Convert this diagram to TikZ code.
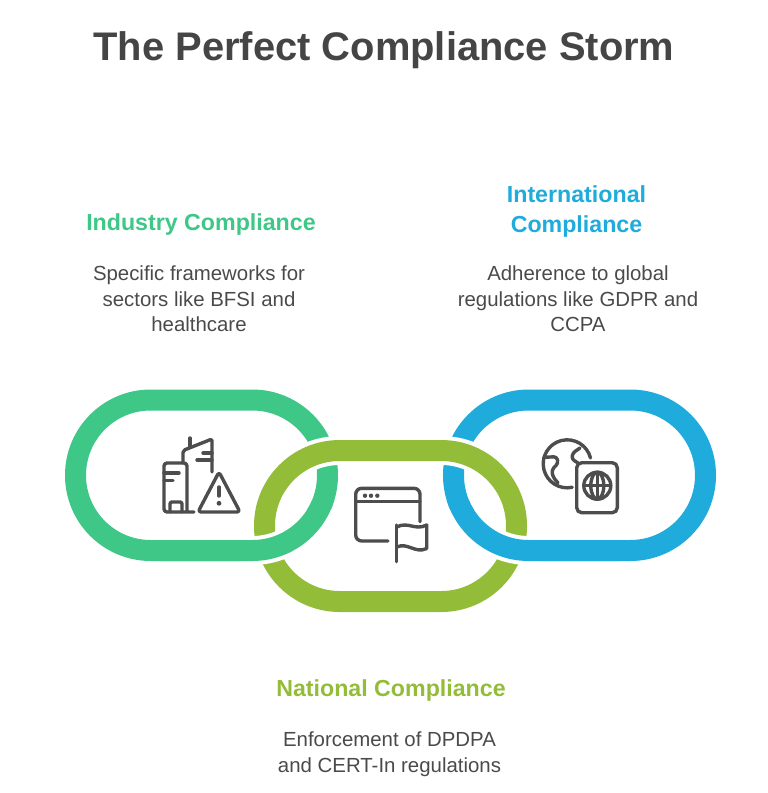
\documentclass[tikz,border=0pt]{standalone}
\usepackage{fontspec}
\setmainfont{Liberation Sans}
\usetikzlibrary{positioning}
\definecolor{titlegray}{HTML}{454545}
\definecolor{textgray}{HTML}{4A4A4A}
\definecolor{icongray}{HTML}{4D4D4D}
\definecolor{indgreen}{HTML}{3FC788}
\definecolor{natlime}{HTML}{93BD38}
\definecolor{intblue}{HTML}{1FABDC}
\newcommand{\indlink}{(75.5,400) rectangle (327.5,550.5)}
\newcommand{\natlink}{(264.5,450.5) rectangle (516.5,601.5)}
\newcommand{\intlink}{(453.5,400) rectangle (705.5,550.5)}
\tikzset{
	link/.style={line width=21pt,rounded corners=75.2pt},
	halo/.style={link,white,line width=29pt},
	icon/.style={draw=icongray,line width=3.4pt,line cap=round,line join=round},
	headtext/.style={font=\fontsize{23.2}{30}\selectfont\bfseries,align=center,inner sep=0pt},
	bodytext/.style={font=\fontsize{20.4}{25.6}\selectfont,text=textgray,align=center,inner sep=0pt}
}
\begin{document}
\begin{tikzpicture}[x=1pt,y=-1pt]
	\path[use as bounding box] (0,0) rectangle (768,793);
	\node[font=\fontsize{39.9}{46}\selectfont\bfseries,text=titlegray,inner sep=0pt] (title) at (384,50) {The Perfect Compliance Storm};
	\node[headtext,text=indgreen] (indhead) at (201,224) {Industry Compliance};
	\node[bodytext] (indbody) at (199,299) {Specific frameworks for\\sectors like BFSI and\\healthcare};
	\node[headtext,text=intblue] (inthead) at (576.5,211.5) {International\\Compliance};
	\node[bodytext] (intbody) at (578,299) {Adherence to global\\regulations like GDPR and\\CCPA};
	\node[headtext,text=natlime] (nathead) at (391,690) {National Compliance};
	\node[bodytext] (natbody) at (389.5,754) {Enforcement of DPDPA\\and CERT-In regulations};
	\draw[link,indgreen] \indlink;
	\draw[link,intblue] \intlink;
	\draw[halo] \natlink;
	\draw[link,natlime] \natlink;
	\begin{scope}
		\clip (240,510) rectangle (345,585);
		\draw[halo] \indlink;
	\end{scope}
	\begin{scope}
		\clip (160,500) rectangle (345,585);
		\draw[link,indgreen] \indlink;
	\end{scope}
	\begin{scope}
		\clip (436,510) rectangle (540,585);
		\draw[halo] \intlink;
	\end{scope}
	\begin{scope}
		\clip (436,500) rectangle (620,585);
		\draw[link,intblue] \intlink;
	\end{scope}
	\draw[icon,rounded corners=3pt] (194,512) -- (164,512) -- (164,463) -- (187,463) -- (187,512);
	\draw[icon] (164,473) -- (179,473);
	\draw[icon] (164,480.5) -- (173,480.5);
	\draw[icon,rounded corners=2pt] (170,512) -- (170,502) -- (182,502) -- (182,512);
	\draw[icon,rounded corners=2pt] (183,463) -- (183,450.5) -- (212,439) -- (212,472);
	\draw[icon] (190,438) -- (190,447);
	\draw[icon] (197,460) -- (212,460);
	\draw[icon] (203,453) -- (212,453);
	\draw[icon,rounded corners=3pt] (219,472) -- (240,512) -- (198,512) -- cycle;
	\draw[icon] (219,487) -- (219,496);
	\fill[icongray] (219,503.3) circle (2.4);
	\draw[icon,rounded corners=6pt] (420,521.7) -- (420,488.3) -- (355.7,488.3) -- (355.7,541) -- (388,541);
	\draw[icon] (355.7,501.7) -- (420,501.7);
	\foreach \dotx in {365,371,377.3}
		\fill[icongray] (\dotx,495.7) circle (2.2);
	\draw[icon] (396.7,561.7) -- (396.7,525);
	\draw[icon] (396.7,527) .. controls (408,521) and (415,531) .. (426.7,525) -- (426.7,548.5) .. controls (415,554) and (408,542) .. (396.7,547);
	\draw[icon] (590.5,458) arc (-14:-360+78:24);
	\draw[icon,rounded corners=3pt] (580,448) -- (572.7,453) -- (571.7,459) -- (578,463);
	\draw[icon,rounded corners=3pt] (543.8,457.3) -- (556.7,456.7) -- (558.3,463) -- (551.7,470) -- (553,477) -- (558,483);
	\draw[icon,rounded corners=5pt] (576.7,462.7) rectangle (617.3,512.7);
	\draw[icon] (597.3,485.7) circle (13.5);
	\draw[icon] (583.8,485.7) -- (610.8,485.7);
	\draw[icon] (597.3,472.2) -- (597.3,499.2);
	\draw[icon] (597.3,485.7) ellipse (6.5 and 13.5);
\end{tikzpicture}
\end{document}
